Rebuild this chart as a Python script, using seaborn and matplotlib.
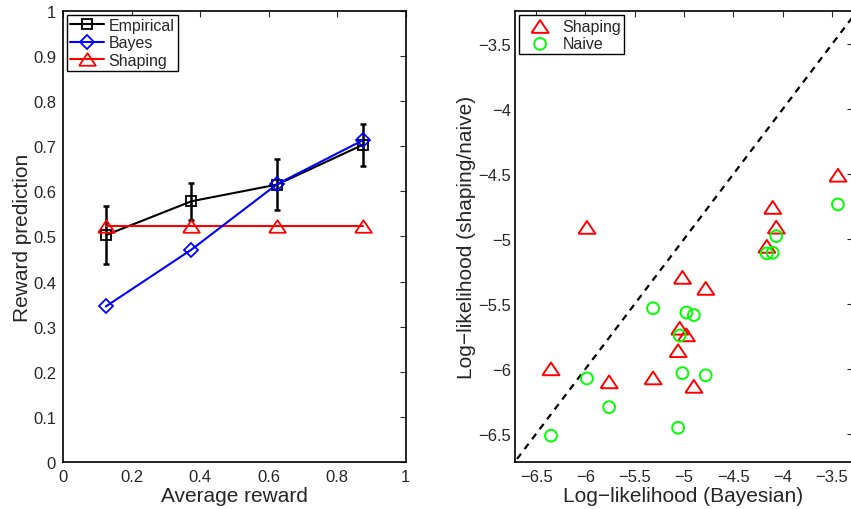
import matplotlib
matplotlib.use("Agg", force=True)
import matplotlib.pyplot as plt
import numpy as np
import pandas as pd
import seaborn as sns
from matplotlib.ticker import FuncFormatter

# left panel: reward prediction vs average reward
avg_reward = [0.125, 0.375, 0.625, 0.875]
empirical = [0.503, 0.578, 0.615, 0.703]
empirical_err = [0.065, 0.041, 0.056, 0.047]
bayes = [0.345, 0.471, 0.616, 0.713]
shaping = [0.524, 0.524, 0.524, 0.524]

# right panel: per-subject log-likelihoods
ll_bayes = [-6.35, -5.985, -5.76, -5.314, -5.016, -4.78, -5.044, -4.976,
            -5.06, -4.90, -4.10, -4.064, -4.16, -3.438]
ll_shaping = [-6.00, -4.91, -6.10, -6.07, -5.295, -5.38, -5.687, -5.738,
              -5.86, -6.135, -4.756, -4.908, -5.056, -4.508]
ll_naive = [-6.515, -6.074, -6.295, -5.533, -6.033, -6.05, -5.743, -5.566,
            -6.454, -5.585, -5.105, -4.977, -5.11, -4.733]

# wide, flat triangle like the matlab marker (closed path)
TRI = [(-1, -0.75), (1, -0.75), (0, 0.75), (-1, -0.75)]
GREEN = (0, 1, 0)


def fmt_tick(v, _pos=None):
    return f"{v:g}".replace("-", "\u2212")


def style_axes(ax, ypad):
    ax.tick_params(direction="in", top=True, right=True, length=4, width=0.8,
                   labelsize=12)
    ax.tick_params(axis="x", pad=5)
    ax.tick_params(axis="y", pad=ypad)
    for sp in ax.spines.values():
        sp.set_visible(True)
        sp.set_linewidth(1.2)
        sp.set_color("black")
    ax.xaxis.set_major_formatter(FuncFormatter(fmt_tick))
    ax.yaxis.set_major_formatter(FuncFormatter(fmt_tick))


sns.set_style("white")
plt.rcParams["font.family"] = ["Liberation Sans", "DejaVu Sans"]

fig = plt.figure(figsize=(8.51, 5.10), dpi=100)
ax1 = fig.add_axes([0.074, 0.0916, 0.4027, 0.8855])
ax2 = fig.add_axes([0.6046, 0.0916, 0.3972, 0.8855])

left = pd.DataFrame({"x": avg_reward, "empirical": empirical, "bayes": bayes, "shaping": shaping})

ax1.errorbar(avg_reward, empirical, yerr=empirical_err, fmt="none", ecolor="black",
             elinewidth=1.8, capsize=2.5, capthick=1.8, zorder=3)
sns.lineplot(data=left, x="x", y="empirical", ax=ax1, color="black", lw=1.5,
             marker="s", markersize=7, markerfacecolor="none", markeredgecolor="black",
             markeredgewidth=1.3, label="Empirical", zorder=4)
sns.lineplot(data=left, x="x", y="bayes", ax=ax1, color="blue", lw=1.5,
             marker="D", markersize=7.5, markerfacecolor="none", markeredgecolor="blue",
             markeredgewidth=1.3, label="Bayes", zorder=5)
sns.lineplot(data=left, x="x", y="shaping", ax=ax1, color="red", lw=1.5,
             marker=TRI, markersize=12, markerfacecolor="none", markeredgecolor="red",
             markeredgewidth=1.3, label="Shaping", zorder=4)

ax1.set_xlim(0, 1)
ax1.set_ylim(0, 1)
ax1.set_xticks(np.arange(0, 1.01, 0.2))
ax1.set_yticks(np.arange(0, 1.01, 0.1))
style_axes(ax1, ypad=5)
ax1.set_xlabel("Average reward", fontsize=15, labelpad=1)
ax1.set_ylabel("Reward prediction", fontsize=15, labelpad=1)
leg1 = ax1.legend(loc="upper left", fontsize=11.5, handlelength=2.1, handletextpad=0.3,
                  labelspacing=0.15, borderpad=0.2, borderaxespad=0.25, fancybox=False,
                  framealpha=1, edgecolor="black")
leg1.get_frame().set_linewidth(1.0)

# right panel
ax2.plot([-7, -3], [-7, -3], color="black", lw=1.6, dashes=(3, 2.6), zorder=1)
sns.scatterplot(x=ll_bayes, y=ll_shaping, ax=ax2, marker=TRI, s=150,
                facecolors="none", edgecolor="red", linewidth=1.4, label="Shaping", zorder=3)
sns.scatterplot(x=ll_bayes, y=ll_naive, ax=ax2, marker="o", s=72,
                facecolors="none", edgecolor=GREEN, linewidth=1.4, label="Naive", zorder=3)

ax2.set_xlim(-6.72, -3.29)
ax2.set_ylim(-6.72, -3.24)
ax2.set_xticks(np.arange(-6.5, -3.49, 0.5))
ax2.set_yticks(np.arange(-6.5, -3.49, 0.5))
style_axes(ax2, ypad=2.5)
ax2.set_xlabel("Log\u2212likelihood (Bayesian)", fontsize=15, labelpad=1)
ax2.set_ylabel("Log\u2212likelihood (shaping/naive)", fontsize=15, labelpad=1.5)
leg2 = ax2.legend(loc="upper left", fontsize=11.5, handlelength=2.2, handletextpad=0.3,
                  labelspacing=0.15, borderpad=0.2, borderaxespad=0.3, fancybox=False,
                  framealpha=1, edgecolor="black")
leg2.get_frame().set_linewidth(1.0)

fig.savefig("out.png", dpi=100)
plt.close(fig)
